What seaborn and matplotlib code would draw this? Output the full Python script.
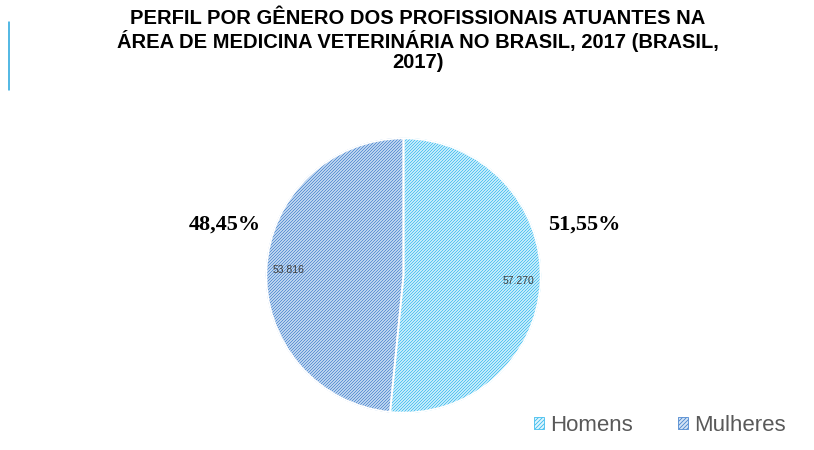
import matplotlib
matplotlib.use("Agg")
import matplotlib.pyplot as plt
import seaborn as sns
from matplotlib.lines import Line2D
from matplotlib.patches import Patch

# figure at 72 dpi so the hatch unit is 72 px and the hatch lines fall on the pixel grid
DPI = 72
K = 100 / DPI  # font scale so sizes match a 100 dpi layout

sns.set_style("white")
plt.rcParams['font.family'] = ['Liberation Sans', 'DejaVu Sans']
plt.rcParams['hatch.linewidth'] = 0.85

# data
categorias = ["Homens", "Mulheres"]
valores = [57270, 53816]
rotulos_valor = ["57.270", "53.816"]
cores_fundo = ["#e0f5fd", "#d4e4f5"]
cores_hachura = ["#3cbcee", "#4a86cf"]
titulo = ("PERFIL POR GÊNERO DOS PROFISSIONAIS ATUANTES NA\n"
          "ÁREA DE MEDICINA VETERINÁRIA NO BRASIL, 2017 (BRASIL,\n"
          "2017)")
hachura = "////////"

fig = plt.figure(figsize=(814 / DPI, 450 / DPI), dpi=DPI)
ax = fig.add_axes([265 / 814, 36 / 450, 277 / 814, 277 / 450])

wedges, textos = ax.pie(valores, labels=rotulos_valor, startangle=90, counterclock=False,
                        colors=cores_fundo, labeldistance=0.84,
                        wedgeprops=dict(linewidth=1.0),
                        textprops=dict(fontsize=7.5 * K, color="#404040", ha="center", va="center"))
for w, hc in zip(wedges, cores_hachura):
    w.set_hatch(hachura)
    w.set_edgecolor(hc)

# white separation lines between slices
ax.pie(valores, startangle=90, counterclock=False, colors=["none", "none"],
       wedgeprops=dict(linewidth=1.8, edgecolor="white"))
ax.set_xlim(-1.01, 1.01)
ax.set_ylim(-1.01, 1.01)

# percentages outside the pie
total = sum(valores)
pos_pct = [(1.32, 0.37), (-1.30, 0.37)]
for v, (px, py) in zip(valores, pos_pct):
    txt = f"{100 * v / total:.2f}%".replace(".", ",")
    ax.text(px, py, txt, ha="center", va="center", fontsize=16 * K, fontweight="bold",
            family=["Liberation Serif", "DejaVu Serif"], color="black", clip_on=False)

fig.text(418 / 814, 1 - 9 / 450, titulo, ha="center", va="top", fontsize=14.5 * K,
         fontweight="bold", linespacing=1.1, color="black")

# thin vertical line at the left edge
fig.add_artist(Line2D([9 / 814, 9 / 814], [1 - 22 / 450, 1 - 90 / 450],
                      transform=fig.transFigure, color="#1fa2dc", linewidth=1.5))

handles = [Patch(facecolor=f, edgecolor=h, hatch="//////", linewidth=0.8)
           for f, h in zip(cores_fundo, cores_hachura)]
fig.legend(handles, categorias, loc="lower right", bbox_to_anchor=(806 / 814, -6 / 450),
           ncol=2, frameon=False, fontsize=16 * K, labelcolor="#595959",
           handlelength=0.45, handleheight=0.45, handletextpad=0.3, columnspacing=2.0)

fig.savefig("out.png", dpi=DPI)
